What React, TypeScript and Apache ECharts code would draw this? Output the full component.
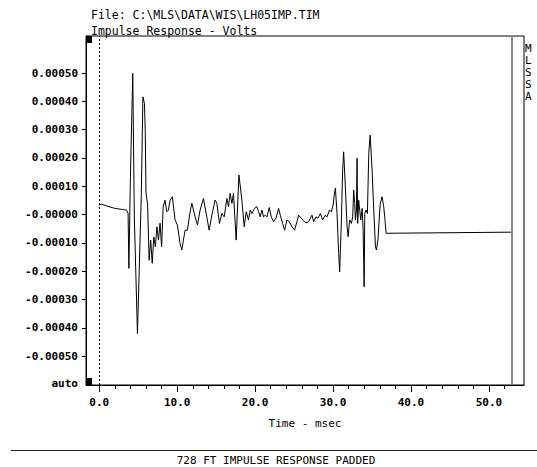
import React, { useEffect, useRef } from "react";
import * as echarts from "echarts";

// Time in msec
const tMs = [
  0.0, 0.3, 1.0, 2.0, 3.0, 3.5, 3.7, 3.8, 4.0, 4.3, 4.5, 4.9, 5.0, 5.4, 5.6, 5.8, 5.9, 6.0, 6.2, 6.4,
  6.6, 6.8, 7.0, 7.2, 7.4, 7.6, 7.8, 8.0, 8.2, 8.44, 8.66, 8.87, 9.09, 9.38, 9.73, 10.03, 10.37, 10.59,
  10.8, 11.02, 11.31, 11.66, 11.88, 12.3, 12.6, 12.94, 13.37, 13.8, 14.1, 14.45, 14.87, 15.09, 15.42,
  15.73, 16.03, 16.38, 16.58, 16.8, 17.02, 17.22, 17.57, 17.92, 18.3, 18.6, 18.86, 19.15, 19.37, 19.59,
  19.92, 20.23, 20.44, 20.66, 20.87, 21.08, 21.3, 21.52, 21.81, 22.07, 22.37, 22.67, 23.01, 23.23, 23.52,
  23.78, 24.09, 24.38, 24.73, 25.06, 25.37, 25.58, 25.93, 26.22, 26.53, 26.86, 27.08, 27.3, 27.51, 27.81,
  28.07, 28.37, 28.66, 29.01, 29.23, 29.53, 29.79, 30.0, 30.21, 30.3, 30.51, 30.72, 30.85, 31.07, 31.23,
  31.36, 31.58, 31.8, 31.93, 32.13, 32.35, 32.52, 32.65, 32.78, 32.87, 33.0, 33.08, 33.16, 33.29, 33.42,
  33.55, 33.73, 33.86, 33.99, 34.07, 34.24, 34.41, 34.58, 34.76, 35.01, 35.22, 35.44, 35.57, 35.78, 35.99,
  36.07, 36.29, 36.5, 36.63, 36.81, 52.9,
];

// Impulse response in units of 1e-4 volts
const vE4 = [
  0.34, 0.37, 0.3, 0.22, 0.18, 0.16, 0.04, -1.9, 1.34, 4.99, -0.08, -4.2, -3.26, 0.76, 4.16, 3.93, 2.98, 0.76, 0.38, -1.61,
  -0.9, -1.72, -0.79, -1.14, -0.43, -0.9, -0.3, -1.14, 0.28, 0.51, 0.1, 0.16, 0.51, 0.63, -0.19, -0.37, -1.02, -1.25,
  -0.9, -0.55, -0.55, 0.1, 0.4, -0.08, -0.37, 0.16, 0.57, -0.08, -0.55, -0.02, 0.51, 0.4, -0.31,
  0.04, -0.08, 0.57, 0.28, 0.75, 0.4, 0.75, -0.9, 1.4, 0.51, -0.43, 0.1, -0.19, 0.16, 0.04,
  0.22, 0.28, 0.1, -0.08, 0.16, -0.08, -0.02, -0.08, 0.25, -0.08, -0.25, -0.13, 0.22, -0.02, -0.31,
  -0.55, -0.19, -0.25, -0.43, -0.55, -0.25, -0.02, -0.13, -0.22, -0.29, -0.25, -0.13, -0.02, -0.25, -0.08,
  -0.13, 0.04, -0.19, -0.02, -0.08, 0.16, 0.1, 0.34, 0.81, 0.93, 0.04, -1.37, -2.02, -0.19, 1.57,
  2.22, 0.98, -0.43, -0.78, -0.19, -0.31, -0.08, 0.87, 0.4, -0.19, 0.16, 1.99, -0.31, 0.51, 0.16,
  -0.19, 0.22, -0.55, -2.55, 0.04, 0.16, 0.04, 2.16, 2.81, 1.57, 0.16, -1.14, -1.25, -0.84, 0.16,
  0.4, 0.63, 0.28, -0.08, -0.66, -0.62,
];

const yTickValues = [0.0005, 0.0004, 0.0003, 0.0002, 0.0001, 0, -0.0001, -0.0002, -0.0003, -0.0004, -0.0005];
const yAutoValue = -0.000597;
const xMinorTicks = [0, 2, 4, 6, 8, 10, 12, 14, 16, 18, 20, 22, 24, 26, 28, 30, 32, 34, 36, 38, 40, 42, 44, 46, 48, 50, 52];
const xMajorTicks = [0, 10, 20, 30, 40, 50];

const xMin = -1.7;
const xMax = 54.5;
const yMin = -0.000602;
const yMax = 0.000631;
const traceEnd = 52.9;

const titleLines = ["File: C:\\MLS\\DATA\\WIS\\LH05IMP.TIM", "Impulse Response - Volts"];
const sideLabel = ["M", "L", "S", "S", "A"];
const caption = "728 FT IMPULSE RESPONSE PADDED";
const xName = "Time - msec";

const MONO = "DejaVu Sans Mono";

export default function App() {
  const ref = useRef<HTMLDivElement>(null);

  useEffect(() => {
    if (!ref.current) return;
    const chart = echarts.init(ref.current, null, { renderer: "svg" });
    const G = { left: 86, top: 36, width: 438, height: 349 };
    const data = tMs.map((t, i) => [t, vE4[i] * 1e-4]);
    const labelStyle = { fontFamily: MONO, fontWeight: "bold" as const, fontSize: 11, color: "#000" };

    chart.setOption({
      animation: false,
      backgroundColor: "#fff",
      grid: { ...G, show: true, borderColor: "#000", borderWidth: 1, backgroundColor: "transparent" },
      xAxis: [
        {
          type: "value",
          min: xMin,
          max: xMax,
          position: "bottom",
          axisLine: { show: true, onZero: false, lineStyle: { color: "#000", width: 1 } },
          axisTick: { show: true, length: 4, customValues: xMinorTicks, lineStyle: { color: "#000" } },
          axisLabel: { show: false },
          splitLine: { show: false },
        },
        {
          type: "value",
          min: xMin,
          max: xMax,
          position: "bottom",
          axisLine: { show: false, onZero: false },
          axisTick: { show: true, length: 7, customValues: xMajorTicks, lineStyle: { color: "#000" } },
          axisLabel: {
            ...labelStyle,
            customValues: xMajorTicks,
            margin: 12,
            formatter: (v: number) => v.toFixed(1),
          },
          splitLine: { show: false },
          name: xName,
          nameLocation: "middle",
          nameGap: 33,
          nameTextStyle: { fontFamily: MONO, fontSize: 11, color: "#000" },
        },
      ],
      yAxis: {
        type: "value",
        min: yMin,
        max: yMax,
        position: "left",
        axisLine: { show: true, onZero: false, lineStyle: { color: "#000", width: 1 } },
        axisTick: { show: true, length: 4, customValues: yTickValues, lineStyle: { color: "#000" } },
        axisLabel: {
          ...labelStyle,
          margin: 8,
          customValues: [...yTickValues, yAutoValue],
          formatter: (v: number) => {
            if (v < -0.00055) return "auto";
            return v > 0 ? v.toFixed(5) : "-" + Math.abs(v).toFixed(5);
          },
        },
        splitLine: { show: false },
      },
      series: [
        {
          type: "line",
          xAxisIndex: 0,
          data,
          showSymbol: false,
          symbol: "none",
          lineStyle: { color: "#000", width: 1 },
          markLine: {
            silent: true,
            symbol: ["none", "none"],
            label: { show: false },
            data: [
              { xAxis: 0, lineStyle: { type: [2, 2], color: "#000", width: 1 } },
              { xAxis: traceEnd, lineStyle: { type: "solid", color: "#888", width: 2 } },
            ],
          },
        },
      ],
      graphic: [
        {
          type: "text",
          left: 91,
          top: 9,
          style: { text: titleLines[0], fontFamily: MONO, fontSize: 11.5, fill: "#000" },
        },
        {
          type: "text",
          left: 91,
          top: 25,
          style: { text: titleLines[1], fontFamily: MONO, fontSize: 11.5, fill: "#000" },
        },
        {
          type: "text",
          left: 525,
          top: 42,
          style: { text: sideLabel.join("\n"), fontFamily: MONO, fontSize: 11, lineHeight: 12, fill: "#000" },
        },
        { type: "rect", shape: { x: G.left + 1, y: G.top, width: 5, height: 7 }, style: { fill: "#000" } },
        { type: "rect", shape: { x: G.left + 1, y: G.top + G.height - 7, width: 5, height: 7 }, style: { fill: "#000" } },
        { type: "line", shape: { x1: 11, y1: 450.5, x2: 537, y2: 450.5 }, style: { stroke: "#222", lineWidth: 1.2 } },
        {
          type: "text",
          x: 276,
          y: 460,
          style: { text: caption, fontFamily: MONO, fontSize: 11, fill: "#000", align: "center", verticalAlign: "middle" },
        },
      ],
    });
    return () => chart.dispose();
  }, []);

  return (
    <div
      ref={ref}
      style={{ position: "fixed", left: 0, top: 0, width: 537, height: 467, background: "#fff" }}
    />
  );
}
